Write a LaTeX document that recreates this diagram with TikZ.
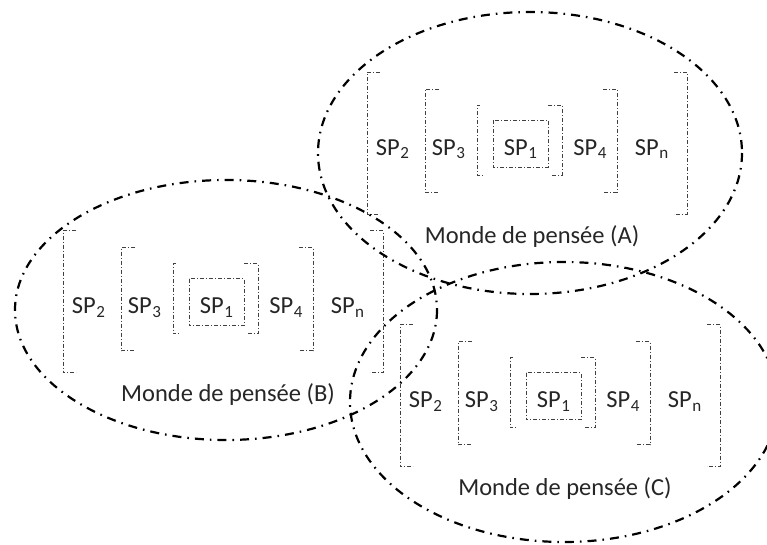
\documentclass[tikz,border=0pt]{standalone}
\usepackage{fontspec}
\setmainfont{Carlito}
\tikzset{
  brk/.style={draw=black!75, line width=0.8pt, dash pattern=on 4pt off 2pt on 1pt off 2pt},
  world/.style={draw=black, line width=2.2pt, dash pattern=on 9pt off 6pt on 1.6pt off 6pt},
  sptext/.style={anchor=base, inner sep=0pt, text=black!85, font=\fontsize{24.5}{28}\selectfont},
  lbltext/.style={anchor=base, inner sep=0pt, text=black!85, font=\fontsize{24.5}{28}\selectfont}
}
\newcommand\spsub[1]{SP\kern0.5pt\raisebox{-3.5pt}{\fontsize{17}{17}\selectfont #1}}
\newcommand\thoughtgroup[4]{%
\begin{scope}[shift={(#1,#2)}]
  \draw[brk] (13,-71) -- (0,-71) -- (0,71) -- (13,71);
  \draw[brk] (307,-71) -- (320,-71) -- (320,71) -- (307,71);
  \draw[brk] (72,-54) -- (58,-54) -- (58,49) -- (72,49);
  \draw[brk] (236,-54) -- (250,-54) -- (250,49) -- (236,49);
  \draw[brk] (113,-38) -- (110,-38) -- (110,32) -- (117,32);
  \draw[brk] (181,-38) -- (195,-38) -- (195,32) -- (184,32);
  \draw[brk] (126,-23) rectangle (181,24);
  \node[sptext] (#3sp2) at (25.5,12) {\spsub{2}};
  \node[sptext] (#3sp3) at (81.5,12) {\spsub{3}};
  \node[sptext] (#3sp1) at (153.5,12) {\spsub{1}};
  \node[sptext] (#3sp4) at (223,12) {\spsub{4}};
  \node[sptext] (#3spn) at (284.5,12) {\spsub{n}};
  \node[lbltext] (#3lbl) at (165,100) {Monde de pensée (#4)};
\end{scope}}
\begin{document}
\begin{tikzpicture}[x=1pt,y=-1pt]
  \useasboundingbox (0,0) rectangle (767,545);
  \fill[white] (0,0) rectangle (767,545);
  \thoughtgroup{367}{143.5}{a}{A}
  \thoughtgroup{63}{301.5}{b}{B}
  \thoughtgroup{400}{395.5}{c}{C}
  \begin{scope}
    \clip (0,0) rectangle (767,545);
    \draw[world] (530,153) ellipse [x radius=212, y radius=141];
    \draw[world] (226,310) ellipse [x radius=211, y radius=130];
    \draw[world] (564,402) ellipse [x radius=214, y radius=140];
  \end{scope}
\end{tikzpicture}
\end{document}
